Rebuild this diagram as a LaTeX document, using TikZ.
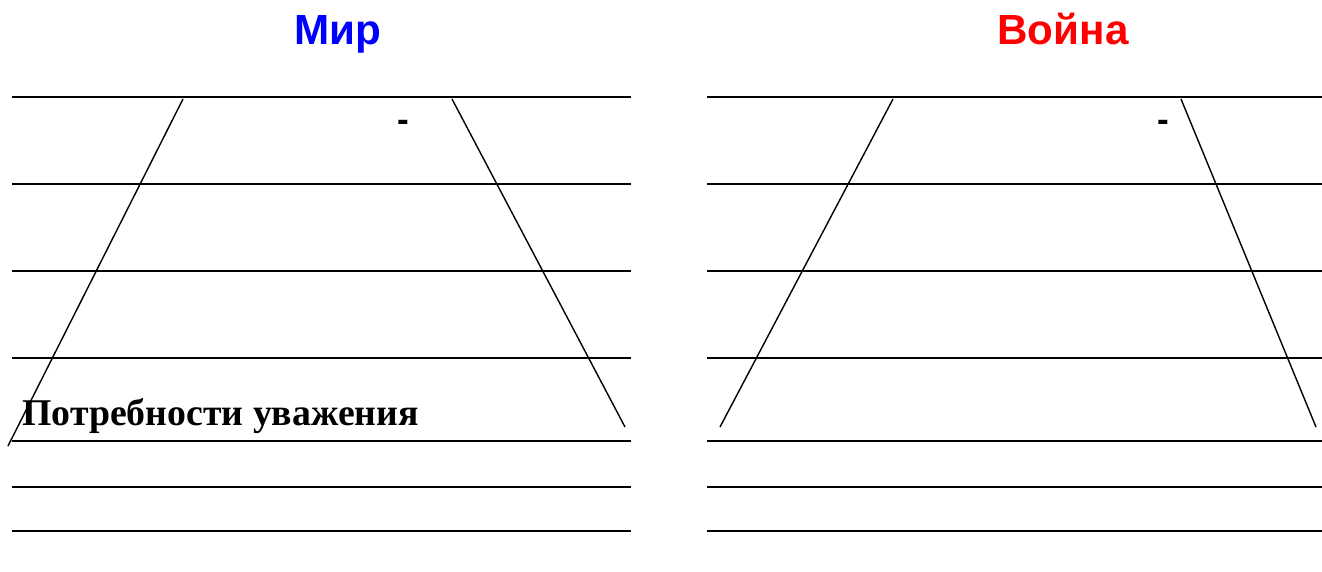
\documentclass[tikz,border=0pt]{standalone}
\usepackage{fontspec}
\setmainfont{Liberation Serif}
\setsansfont{Liberation Sans}
\usetikzlibrary{positioning}

\begin{document}
\begin{tikzpicture}[
  rule/.style={line width=1.1pt},
  side/.style={line width=0.8pt},
  title/.style={font=\sffamily\bfseries\fontsize{24}{28}\selectfont, anchor=base},
  dashmark/.style={font=\sffamily\bfseries\fontsize{20}{24}\selectfont, anchor=base},
  level/.style={font=\bfseries\fontsize{21.5}{25}\selectfont, anchor=base west, inner sep=0pt}
]
  \useasboundingbox (0,0) rectangle (26.44,11.42);

  \node[title, text=blue] (mir)   at (6.76,10.52)  {Мир};
  \node[title, text=red]  (voina) at (21.26,10.52) {Война};

  % horizontal rules
  \foreach \y in {9.48,7.74,6.00,4.26,2.60,1.68,0.80} {
    \draw[rule] (0.24,\y) -- (12.62,\y);
    \draw[rule] (14.14,\y) -- (26.44,\y);
  }

  % pyramid sides
  \draw[side] (3.66,9.44) -- (0.16,2.50);
  \draw[side] (9.04,9.44) -- (12.50,2.88);
  \draw[side] (17.86,9.44) -- (14.40,2.88);
  \draw[side] (23.62,9.44) -- (26.32,2.88);

  \node[dashmark] (dashmir)   at (8.06,8.80)  {-};
  \node[dashmark] (dashvoina) at (23.26,8.80) {-};

  \node[level] (respect) at (0.44,2.92) {Потребности уважения};
\end{tikzpicture}
\end{document}
